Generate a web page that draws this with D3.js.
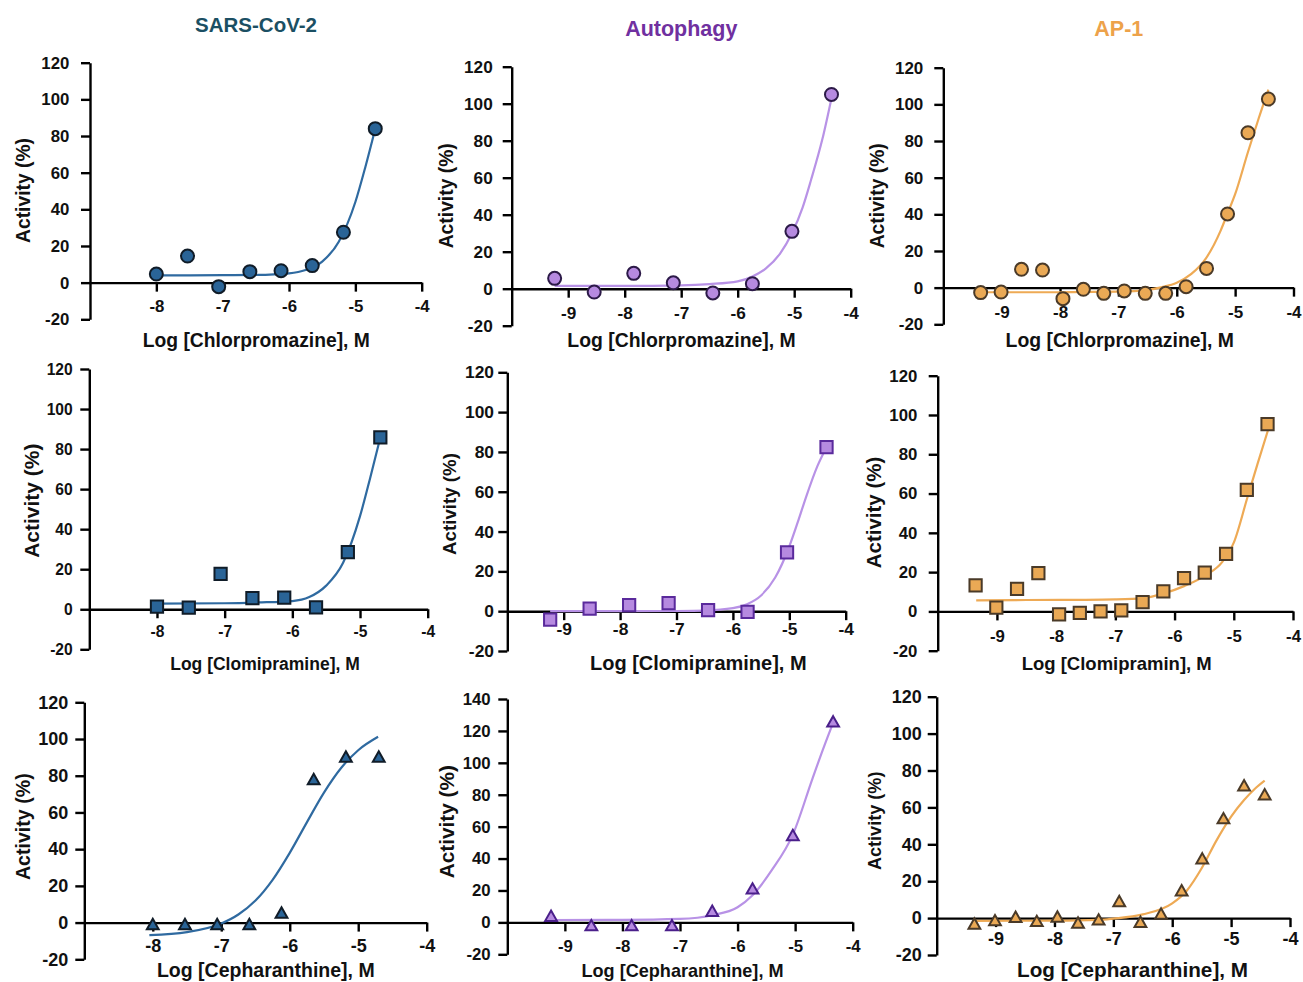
<!DOCTYPE html>
<html>
<head>
<meta charset="utf-8">
<script src="https://cdn.jsdelivr.net/npm/d3@7"></script>
<style>
body { margin: 0; background: #fff; }
svg text { font-family: "Liberation Sans", Arial, sans-serif; font-weight: bold; fill: #111; }
</style>
</head>
<body>
<script>
// Spaltenköpfe und Achsentitel
var columnTitles = ["SARS-CoV-2", "Autophagy", "AP-1"];
var xTitles = [
  "Log [Chlorpromazine], M", "Log [Chlorpromazine], M", "Log [Chlorpromazine], M",
  "Log [Clomipramine], M", "Log [Clomipramine], M", "Log [Clomipramin], M",
  "Log [Cepharanthine], M", "Log [Cepharanthine], M", "Log [Cepharanthine], M"
];
var yTitle = "Activity (%)";

// Konzentrationen (log M)
var doseSars = [-8.0, -7.53, -7.06, -6.59, -6.12, -5.65, -5.18, -4.7];
var doseAuto = [-9.24, -8.54, -7.84, -7.14, -6.44, -5.74, -5.04, -4.34];
var doseAp1 = [-9.36, -9.01, -8.66, -8.30, -7.95, -7.60, -7.25, -6.90, -6.54, -6.19, -5.84, -5.49, -5.13, -4.78, -4.43];

// Messwerte Aktivität (%)
var sarsChlor = [4.7, 14.5, -2.2, 6, 6.5, 9.3, 27.5, 84];
var autoChlor = [5.6, -1.8, 8.3, 3.2, -2.3, 2.7, 31, 105];
var ap1Chlor = [-2.7, -2.4, 10, 9.6, -6, -0.9, -3.1, -1.8, -3.1, -3.1, 0.5, 10.5, 40.2, 84.5, 102.9];
var sarsClomi = [1.3, 0.8, 17.7, 5.5, 5.8, 1, 28.5, 85.8];
var autoClomi = [-4.2, 1.3, 3, 4, 0.5, -0.3, 29.6, 82.4];
var ap1Clomi = [13.2, 1.9, 11.5, 19.5, -1.5, -0.8, 0, 0.5, 4.7, 10.2, 16.9, 19.7, 29.3, 61.9, 95.4];
var sarsCeph = [-0.8, -0.8, -0.8, -0.8, 5.5, 78.2, 90.5, 90.5];
var autoCeph = [4.2, -1.7, -1.7, -1.7, 7.3, 21.3, 54.8, 126];
var ap1Ceph = [-2.9, -1.1, 0.7, -1.5, 0.9, -2.4, -0.7, 9.3, -2, 2.5, 15.1, 32.4, 54.2, 72, 67.1];

// Fitkurven
var sarsChlorFitX = [-8, -7, -6.5, -6, -5.75, -5.5, -5.25, -5, -4.85, -4.7];
var sarsChlorFitY = [4, 4.05, 4.2, 5.1, 6.9, 11.5, 22.3, 44, 63, 84];
var autoChlorFitX = [-9.24, -8, -7, -6.5, -6, -5.75, -5.5, -5.25, -5.04, -4.85, -4.7, -4.5, -4.34];
var autoChlorFitY = [1.5, 1.5, 1.8, 2.5, 4, 6.5, 11, 19, 30, 44, 59, 81, 103];
var ap1ChlorFitX = [-9.36, -8, -7, -6.5, -6.25, -6, -5.75, -5.5, -5.25, -5.13, -5, -4.78, -4.6, -4.43];
var ap1ChlorFitY = [-2.5, -2.5, -2.2, -1.2, 0.3, 2.7, 7.5, 16, 31, 40.5, 51, 74, 92, 108];
var sarsClomiFitX = [-8, -7, -6.5, -6, -5.75, -5.5, -5.25, -5, -4.85, -4.7];
var sarsClomiFitY = [2.8, 3.0, 3.4, 4.1, 6.1, 11.8, 23.2, 46.5, 65.6, 85.8];
var autoClomiFitX = [-9.24, -8, -7, -6.5, -6, -5.75, -5.5, -5.25, -5, -4.85, -4.7, -4.5, -4.34];
var autoClomiFitY = [0, 0, 0.1, 0.3, 1.5, 3.5, 7.9, 16.9, 32.5, 44.7, 57.6, 73, 82.4];
var ap1ClomiFitX = [-9.35, -8.5, -7.5, -7, -6.53, -6.18, -5.83, -5.47, -5.2, -5, -4.77, -4.6, -4.42];
var ap1ClomiFitY = [5.6, 5.8, 5.9, 6.1, 6.8, 9.2, 13, 18.5, 25, 35, 58, 75, 92.5];
var sarsCephFitX = [-8.05, -7.5, -7, -6.75, -6.5, -6.25, -6, -5.75, -5.5, -5.25, -5, -4.71];
var sarsCephFitY = [-6.8, -5.2, -0.5, 4.4, 12, 23.3, 38, 54.6, 70.8, 84.2, 93.9, 101.2];
var autoCephFitX = [-9.23, -8, -7, -6.44, -6, -5.74, -5.4, -5.04, -4.7, -4.5, -4.33];
var autoCephFitY = [1.5, 1.6, 2.2, 4.5, 9.5, 17, 33, 55, 90, 110, 126];
var ap1CephFitX = [-9.37, -8, -7.25, -7, -6.5, -6, -5.75, -5.5, -5.25, -5, -4.78, -4.6, -4.43];
var ap1CephFitY = [-1.5, -1.4, -1, -0.3, 2, 8, 15, 27, 42, 55, 64, 70, 74.5];

// Achsenbereiche und Ticks
var xDomainSars = [-9, -4], xDomainOther = [-10, -4];
var xTicksSars = [-8, -7, -6, -5, -4];
var xTicksOther = [-9, -8, -7, -6, -5, -4];
var yTicks120 = [-20, 0, 20, 40, 60, 80, 100, 120];
var yTicks140 = [-20, 0, 20, 40, 60, 80, 100, 120, 140];

// Farben je Spalte
var colors = [
  {fill: "#2a6497", line: "#2f6aa0", stroke: ["#101c28", "#101c28", "#101c28"], title: "#1b4f63"},
  {fill: "#b68ae0", line: "#b892e6", stroke: ["#2c1a48", "#5a2a9c", "#4a1f8a"], title: "#7030a0"},
  {fill: "#eaa955", line: "#eeaa55", stroke: ["#4a3a28", "#4a3a28", "#4a3a28"], title: "#eda24a"}
];

// Panels zusammenbauen
var doses = [doseSars, doseAuto, doseAp1];
var values = [sarsChlor, autoChlor, ap1Chlor, sarsClomi, autoClomi, ap1Clomi, sarsCeph, autoCeph, ap1Ceph];
var fitX = [sarsChlorFitX, autoChlorFitX, ap1ChlorFitX, sarsClomiFitX, autoClomiFitX, ap1ClomiFitX, sarsCephFitX, autoCephFitX, ap1CephFitX];
var fitY = [sarsChlorFitY, autoChlorFitY, ap1ChlorFitY, sarsClomiFitY, autoClomiFitY, ap1ClomiFitY, sarsCephFitY, autoCephFitY, ap1CephFitY];

// Lage der Plotflächen: [x links, x rechts, y unten, y oben]
var frames = [
  [90, 421.7, 319.3, 62.7], [511.7, 850.7, 325.7, 66.7], [943.3, 1293.5, 324.3, 67.7],
  [89.3, 427.7, 649.3, 369], [507.3, 845.7, 651, 372.3], [937.7, 1293, 650.7, 375.7],
  [84.3, 426.7, 959.3, 702.3], [507.3, 852.7, 954.3, 699], [936.7, 1290, 955, 696.7]
];
// Schrift: [tick, x-Titel, y-Titel, y-Labelabstand, x-Labelabstand, yTitel x, yTitel y, xTitel x, xTitel Basislinie]
var typo = [
  [16.8, 19.3, 19.3, 20.7, 23, 23, 190.5, 256.3, 347],
  [17.2, 19.4, 19.3, 19, 23.8, 446.7, 195.8, 681.5, 347],
  [17, 19.4, 19.3, 20, 24.8, 877.3, 195.8, 1119.8, 347],
  [15.6, 17.5, 21, 16.6, 21.9, 31.7, 500.7, 265, 670],
  [17.4, 20, 18.7, 13.3, 18.2, 449, 504, 698.3, 670],
  [16.8, 18.5, 20.5, 20.4, 24.8, 873.3, 512.5, 1116.7, 670],
  [18, 19.5, 19.6, 16, 23.1, 23.3, 826.7, 265.8, 977],
  [16.8, 18.1, 20.8, 16.6, 23.5, 446.7, 821.7, 682.5, 977],
  [18, 20.7, 18.1, 15, 20.9, 875, 820.8, 1132.5, 977]
];

// Dreieck mit Mittelpunkt in der Box-Mitte
var triangleBox = {
  draw: function (ctx, s) {
    var h = s * 0.88;
    ctx.moveTo(0, -h / 2);
    ctx.lineTo(s / 2, h / 2);
    ctx.lineTo(-s / 2, h / 2);
    ctx.closePath();
  }
};
var markers = [
  d3.symbol().type(d3.symbolCircle).size(133),
  d3.symbol().type(d3.symbolSquare).size(150),
  d3.symbol().type(triangleBox).size(11.8)
];

var svg = d3.select("body").append("svg")
  .attr("width", 1303)
  .attr("height", 982);

// Spaltentitel
var titleX = [256, 681.3, 1118.8], titleY = [31.7, 36, 36], titleSize = [20.5, 21.5, 21.5];
columnTitles.forEach(function (t, c) {
  svg.append("text")
    .attr("x", titleX[c]).attr("y", titleY[c])
    .attr("text-anchor", "middle")
    .style("font-size", titleSize[c] + "px")
    .style("fill", colors[c].title)
    .text(t);
});

for (var i = 0; i < 9; i++) {
  var row = Math.floor(i / 3), col = i % 3;
  var f = frames[i], ty = typo[i], cl = colors[col];
  var xs = d3.scaleLinear().domain(col === 0 ? xDomainSars : xDomainOther).range([f[0], f[1]]);
  var yT = (i === 7) ? yTicks140 : yTicks120;
  var ys = d3.scaleLinear().domain([yT[0], yT[yT.length - 1]]).range([f[2], f[3]]);
  var g = svg.append("g");

  // Y Achse
  var ya = g.append("g")
    .attr("transform", "translate(" + f[0] + ",0)")
    .call(d3.axisLeft(ys).tickValues(yT).tickSize(9).tickSizeOuter(0).tickPadding(ty[3] - 9).tickFormat(d3.format("d")));
  // X Achse bei y = 0
  var xa = g.append("g")
    .attr("transform", "translate(0," + ys(0) + ")")
    .call(d3.axisBottom(xs).tickValues(col === 0 ? xTicksSars : xTicksOther).tickSize(9).tickSizeOuter(0).tickFormat(d3.format("d")));
  xa.selectAll(".tick text").attr("y", ty[4]).attr("dy", "0.35em");
  [ya, xa].forEach(function (a) {
    a.selectAll("path, line").attr("stroke", "#000").attr("stroke-width", 2.4);
    a.selectAll("text").style("font-size", ty[0] + "px").attr("fill", "#111")
      .text(function (d) { return String(d).replace("\u2212", "-"); });
  });

  // Achsentitel
  g.append("text")
    .attr("transform", "translate(" + ty[5] + "," + ty[6] + ") rotate(-90)")
    .attr("text-anchor", "middle")
    .attr("dominant-baseline", "central")
    .style("font-size", ty[2] + "px")
    .text(yTitle);
  g.append("text")
    .attr("x", ty[7]).attr("y", ty[8])
    .attr("text-anchor", "middle")
    .style("font-size", ty[1] + "px")
    .text(xTitles[i]);

  // Kurve
  var fx = fitX[i], fy = fitY[i];
  var line = d3.line()
    .x(function (d) { return xs(d); })
    .y(function (d, k) { return ys(fy[k]); })
    .curve(d3.curveMonotoneX);
  g.append("path")
    .datum(fx)
    .attr("d", line)
    .attr("fill", "none")
    .attr("stroke", cl.line)
    .attr("stroke-width", 2.2);

  // Messpunkte
  var pts = doses[col].map(function (d, k) { return [d, values[i][k]]; });
  g.selectAll(".pt").data(pts).enter().append("path")
    .attr("class", "pt")
    .attr("transform", function (d) { return "translate(" + xs(d[0]) + "," + ys(d[1]) + ")"; })
    .attr("d", markers[row])
    .attr("fill", cl.fill)
    .attr("stroke", cl.stroke[row])
    .attr("stroke-width", 2);
}
</script>
</body>
</html>
